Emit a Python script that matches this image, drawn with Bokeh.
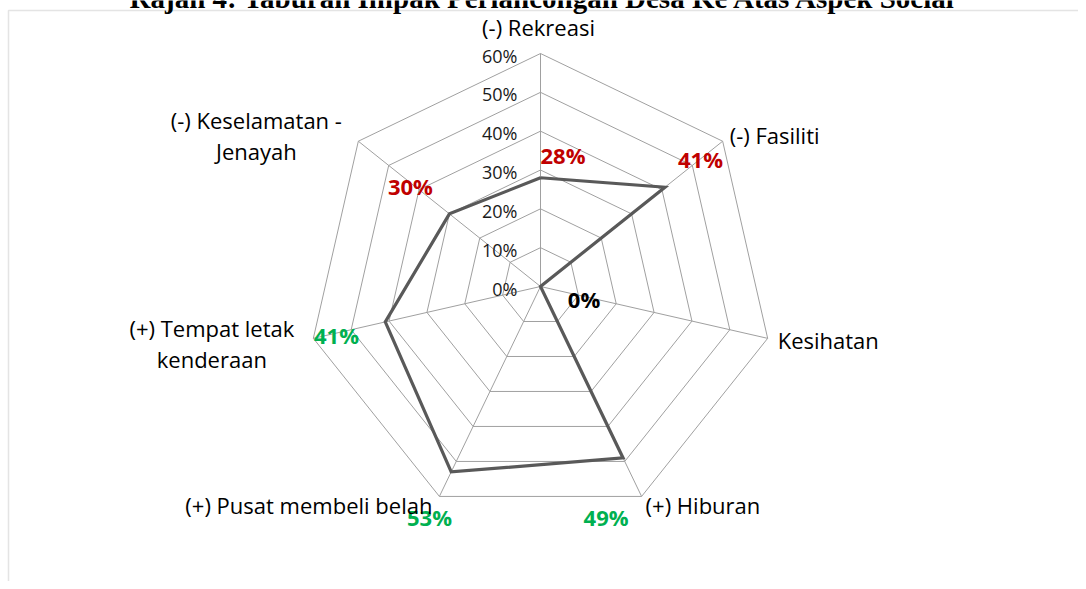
import numpy as np
from bokeh.plotting import figure
from bokeh.models import ColumnDataSource, Range1d, Label, BoxAnnotation
from bokeh.core.properties import value
from bokeh.embed import file_html
from bokeh.resources import INLINE

# ---------------- data ----------------
title_text = "Rajah 4: Taburan Impak Perlancongan Desa Ke Atas Aspek Social"
categories = ["(-) Rekreasi", "(-) Fasiliti", "Kesihatan", "(+) Hiburan",
              "(+) Pusat membeli belah", "(+) Tempat letak\nkenderaan",
              "(-) Keselamatan -\nJenayah"]
values = [28, 41, 0, 49, 53, 41, 30]
value_labels = ["28%", "41%", "0%", "49%", "53%", "41%", "30%"]
value_label_colors = ["#c00000", "#c00000", "#000000", "#00b050",
                      "#00b050", "#00b050", "#c00000"]
ring_values = [0, 10, 20, 30, 40, 50, 60]
ring_labels = ["0%", "10%", "20%", "30%", "40%", "50%", "60%"]

# ---------------- layout / style ----------------
W, H = 1078, 581
CX, CY = 540, 286            # centre of radar in canvas px (from top-left)
PX = 233.0 / 60.0            # px per 1 %
R_MAX = 60
FONT = "Open Sans"

# category label placement (offset in px from outer vertex, y down)
cat_align = ["center", "left", "left", "left", "right", "center", "center"]
cat_dx = [-2, 7, 10, 4, -7, -101.5, -102]
cat_dy = [-27, -6, 2, 9, 9, 5, -5.5]
# value label offsets (px from data point, y down)
val_dx = [22.5, 35.5, 43.5, -17, -21.7, -48.8, -39]
val_dy = [-22.3, -28.2, 12.5, 59, 45, 12.6, -28]

n = len(categories)
theta = 2 * np.pi * np.arange(n) / n
sx, sy = np.sin(theta), np.cos(theta)

p = figure(width=W, height=H, output_backend="svg", toolbar_location=None,
           x_range=Range1d(-CX / PX, (W - CX) / PX),
           y_range=Range1d(-(H - CY) / PX, CY / PX),
           x_axis_type=None, y_axis_type=None, min_border=0)
p.grid.visible = False
p.outline_line_color = None
p.background_fill_color = "white"
p.border_fill_color = "white"

# frame box (top & left edges visible)
p.add_layout(BoxAnnotation(left=8, right=3000, top=H - 10, bottom=-100,
                           left_units="screen", right_units="screen",
                           top_units="screen", bottom_units="screen",
                           fill_alpha=0, line_color="#a6a6a6", line_width=1.5))

# title (cut at top as in reference)
p.add_layout(Label(x=543, y=H + 3, x_units="screen", y_units="screen",
                   text=title_text, text_align="center",
                   text_baseline="alphabetic", text_font="Liberation Serif",
                   text_font_style="bold", text_font_size="29px",
                   text_color="#000000"))

# grid rings
ring_xs = [list(np.append(r * sx, r * sx[0])) for r in ring_values[1:]]
ring_ys = [list(np.append(r * sy, r * sy[0])) for r in ring_values[1:]]
p.multi_line(ring_xs, ring_ys, line_color="#a0a0a0", line_width=1)
# spokes
p.segment(x0=np.zeros(n), y0=np.zeros(n), x1=R_MAX * sx, y1=R_MAX * sy,
          line_color="#a0a0a0", line_width=1)

# data polygon
vals = np.array(values, dtype=float)
dx_ = np.append(vals * sx, vals[0] * sx[0])
dy_ = np.append(vals * sy, vals[0] * sy[0])
p.line(dx_, dy_, line_color="#595959", line_width=3.2, line_join="miter")

# tick labels
p.text(x=np.zeros(len(ring_values)), y=ring_values, text=ring_labels,
       x_offset=-23, y_offset=2, text_align="right", text_baseline="middle",
       text_font=value(FONT), text_font_size="18px", text_color="#1a1a1a")

# value labels
vsrc = ColumnDataSource(dict(x=vals * sx, y=vals * sy, t=value_labels,
                             c=value_label_colors, dx=val_dx, dy=val_dy))
p.text(x="x", y="y", text="t", x_offset="dx", y_offset="dy",
       text_color="c", source=vsrc, text_align="center",
       text_baseline="middle", text_font=value(FONT),
       text_font_style="bold", text_font_size="22px")

# category labels
csrc = ColumnDataSource(dict(x=R_MAX * sx, y=R_MAX * sy, t=categories,
                             a=cat_align, dx=cat_dx, dy=cat_dy))
p.text(x="x", y="y", text="t", x_offset="dx", y_offset="dy",
       text_align="a", source=csrc, text_baseline="middle",
       text_font=value(FONT), text_font_size="22px", text_color="#000000",
       text_line_height=1.05)

open("out.html", "w").write(file_html(p, INLINE))
